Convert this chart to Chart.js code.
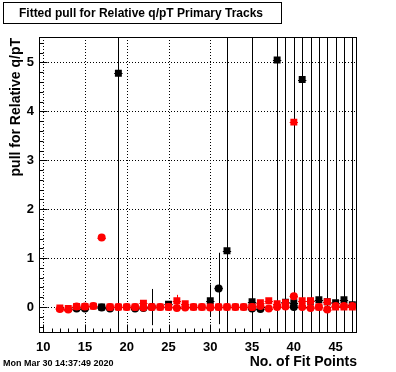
<!DOCTYPE html>
<html><head><meta charset="utf-8">
<script src="https://cdn.jsdelivr.net/npm/chart.js@4/dist/chart.umd.min.js"></script>
<style>html,body{margin:0;padding:0;background:#fff}#wrap{width:396px;height:372px}</style>
</head><body><div id="wrap"><canvas id="c" width="396" height="372"></canvas></div>
<script>
// ---- data ----
const fitPoints = [12,13,14,15,16,17,18,19,20,21,22,23,24,25,26,27,28,29,30,31,32,33,34,35,36,37,38,39,40,41,42,43,44,45,46,47];
const redCircle    = [-0.04,-0.05,0.01,0.01,0.02,1.42,0,0,0,0,-0.01,0,0,0,-0.02,-0.01,0,0,-0.01,0,0,0,0,0,0.02,-0.03,0,0.01,0.22,0,-0.02,0,-0.05,0.02,0.02,0.02];
const redCircleErr = [0.03,0.03,0.03,0.03,0.03,0.03,0.03,0.03,0.03,0.03,0.03,0.03,0.03,0.03,0.03,0.03,0.03,0.03,0.03,0.03,0.03,0.03,0.03,0.03,0.03,0.03,0.03,0.03,0.03,0.03,0.03,0.03,0.03,0.03,0.03,0.03];
const redSquare    = [-0.02,-0.03,0.01,0.01,0.02,null,0,0,0,0,0.08,0,0,0,0.13,0.07,0,0,0,0,0,0,0,0,0.09,0.13,0.07,0.09,3.78,0.13,0.13,0,0.11,0,0,0];
const redSquareErr = [0.03,0.03,0.03,0.03,0.03,0.03,0.03,0.03,0.03,0.03,0.03,0.03,0.03,0.03,0.12,0.03,0.03,0.03,0.03,0.03,0.03,0.03,0.03,0.03,0.03,0.03,0.03,0.03,0.03,0.03,0.03,0.03,0.03,0.03,0.03,0.03];
const blackCircle    = [null,null,-0.03,-0.03,null,-0.01,-0.03,null,null,-0.03,-0.02,0,null,null,null,null,null,null,null,0.38,null,null,null,-0.03,-0.04,null,null,null,0,null,null,null,null,null,null,null];
const blackCircleErr = [0.03,0.03,0.03,0.03,0.03,0.03,0.03,0.03,0.03,0.03,0.03,0.37,0.03,0.03,0.03,0.03,0.03,0.03,0.03,0.73,0.03,0.03,0.03,0.03,0.03,0.03,0.03,0.03,0.03,0.03,0.03,0.03,0.03,0.03,0.03,0.03];
const blackSquare    = [null,null,null,null,null,0,null,4.78,null,null,null,null,null,0.06,null,null,null,null,0.13,null,1.15,null,null,0.11,null,null,5.05,0.10,0.09,4.65,0.12,0.15,0.11,0.09,0.15,0.05];
const blackSquareErr = [0.04,0.04,0.04,0.04,0.04,0.04,0.04,50,0.04,0.04,0.04,0.04,0.04,0.04,0.04,0.04,0.04,0.04,0.33,0.04,50,0.04,0.04,50,0.04,0.04,50,50,50,50,50,50,50,50,50,50];
const binHalfWidth = 0.5;
const xTickLabels = [10,15,20,25,30,35,40,45];
const yTickLabels = [0,1,2,3,4,5];
const titleText = 'Fitted pull for Relative q/pT Primary Tracks';
const xTitle = 'No. of Fit Points';
const yTitle = 'pull for Relative q/pT';
const dateText = 'Mon Mar 30 14:37:49 2020';

function pts(vals, errs){
  const out=[];
  fitPoints.forEach((xv,i)=>{ if(vals[i]!==null) out.push({x:xv,y:vals[i],e:errs[i]}); });
  return out;
}
const FONT = '"Liberation Sans", Arial, sans-serif';

const rootStyle = {
  id:'rootStyle',
  beforeDatasetsDraw(chart){
    const {ctx, chartArea:a, scales:{x,y}} = chart;
    ctx.save();
    ctx.beginPath(); ctx.rect(a.left,a.top,a.right-a.left,a.bottom-a.top); ctx.clip();
    ctx.setLineDash([1,2]); ctx.strokeStyle='#000'; ctx.lineWidth=1;
    ctx.beginPath();
    xTickLabels.forEach(v=>{const px=Math.round(x.getPixelForValue(v))+0.5; ctx.moveTo(px,a.top); ctx.lineTo(px,a.bottom);});
    yTickLabels.forEach(v=>{const py=Math.round(y.getPixelForValue(v))+0.5; ctx.moveTo(a.left,py); ctx.lineTo(a.right,py);});
    ctx.stroke(); ctx.restore();
  },
  beforeDatasetDraw(chart, args){
    const {ctx, chartArea:a, scales:{x,y}} = chart;
    const ds = chart.data.datasets[args.index];
    ctx.save();
    ctx.beginPath(); ctx.rect(a.left,a.top,a.right-a.left,a.bottom-a.top); ctx.clip();
    ctx.strokeStyle = ds.backgroundColor; ctx.lineWidth=1;
    ctx.beginPath();
    ds.data.forEach(p=>{
      const px = Math.round(x.getPixelForValue(p.x))+0.5;
      const py = Math.round(y.getPixelForValue(p.y))+0.5;
      ctx.moveTo(px, y.getPixelForValue(p.y+p.e)); ctx.lineTo(px, y.getPixelForValue(p.y-p.e));
      ctx.moveTo(x.getPixelForValue(p.x-binHalfWidth), py); ctx.lineTo(x.getPixelForValue(p.x+binHalfWidth), py);
    });
    ctx.stroke(); ctx.restore();
  },
  afterDatasetsDraw(chart){
    const {ctx, chartArea:a, scales:{x,y}} = chart;
    ctx.save();
    ctx.strokeStyle='#000'; ctx.lineWidth=1; ctx.setLineDash([]);
    const L=Math.round(a.left)+0.5, R=Math.round(a.right)-0.5, T=Math.round(a.top)+0.5, B=Math.round(a.bottom)-0.5;
    ctx.strokeRect(L,T,R-L,B-T);
    ctx.beginPath();
    for(let v=10; v<=47; v++){
      const px=Math.round(x.getPixelForValue(v))+0.5;
      const len = (v%5===0)?8:4;
      ctx.moveTo(px,B); ctx.lineTo(px,B-len);
    }
    for(let k=-2; k<=27; k++){
      const v=k*0.2;
      const py=Math.round(y.getPixelForValue(v))+0.5;
      if(py<T||py>B) continue;
      const len = (k%5===0)?8:4;
      ctx.moveTo(L,py); ctx.lineTo(L+len,py);
    }
    ctx.stroke();
    ctx.restore();
  },
  afterDraw(chart){
    const {ctx} = chart;
    ctx.save();
    ctx.fillStyle='#000'; ctx.strokeStyle='#000'; ctx.lineWidth=1;
    ctx.strokeRect(3.5,2.5,278,21);
    ctx.font='bold 12px '+FONT; ctx.textAlign='center'; ctx.textBaseline='middle';
    ctx.fillText(titleText,141,13.5);
    ctx.font='bold 14px '+FONT; ctx.textAlign='right'; ctx.textBaseline='middle';
    ctx.fillText(xTitle,357,362);
    ctx.save(); ctx.translate(16,38); ctx.rotate(-Math.PI/2);
    ctx.textAlign='right'; ctx.fillText(yTitle,0,0); ctx.restore();
    ctx.font='bold 9px '+FONT; ctx.textAlign='left';
    ctx.fillText(dateText,3,364);
    ctx.restore();
  }
};

new Chart(document.getElementById('c'), {
  type:'scatter',
  data:{datasets:[
    {label:'red circle', data:pts(redCircle,redCircleErr), pointStyle:'circle', pointRadius:4, backgroundColor:'#ff0000', borderWidth:0, pointBorderWidth:0},
    {label:'red square', data:pts(redSquare,redSquareErr), pointStyle:'rect', pointRadius:4.9, backgroundColor:'#ff0000', borderWidth:0, pointBorderWidth:0},
    {label:'black circle', data:pts(blackCircle,blackCircleErr), pointStyle:'circle', pointRadius:4, backgroundColor:'#000000', borderWidth:0, pointBorderWidth:0},
    {label:'black square', data:pts(blackSquare,blackSquareErr), pointStyle:'rect', pointRadius:4.9, backgroundColor:'#000000', borderWidth:0, pointBorderWidth:0}
  ]},
  options:{
    responsive:false, animation:false, devicePixelRatio:1,
    layout:{padding:{left:0,right:39.5,top:37,bottom:0}},
    plugins:{legend:{display:false}, tooltip:{enabled:false}, title:{display:false}},
    scales:{
      x:{type:'linear', min:9.5, max:47.5,
         afterBuildTicks:s=>{s.ticks=xTickLabels.map(v=>({value:v}));},
         afterFit:s=>{s.height=39;},
         grid:{display:false, drawTicks:false}, border:{display:false},
         ticks:{font:{family:FONT,size:13,weight:'bold'}, color:'#000', padding:7, maxRotation:0, autoSkip:false}},
      y:{type:'linear', min:-0.53, max:5.52,
         afterBuildTicks:s=>{s.ticks=yTickLabels.map(v=>({value:v}));},
         afterFit:s=>{s.width=39;},
         grid:{display:false, drawTicks:false}, border:{display:false},
         ticks:{font:{family:FONT,size:13,weight:'bold'}, color:'#000', padding:5, autoSkip:false}}
    }
  },
  plugins:[rootStyle]
});
</script></body></html>
